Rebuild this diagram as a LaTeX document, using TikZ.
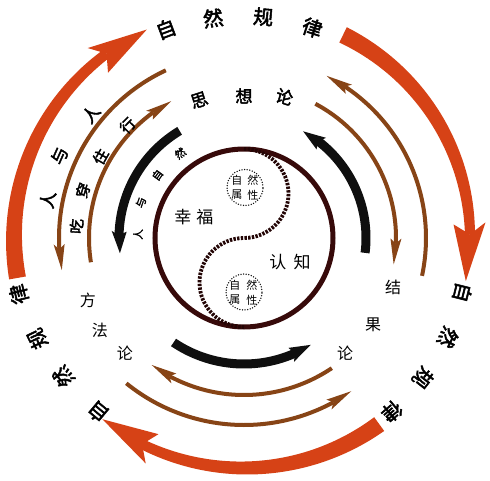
\documentclass[tikz,border=0pt]{standalone}
\usepackage{fontspec}
\newfontfamily\cjk{Noto Sans CJK SC}
\newfontfamily\cjkb[FakeBold=2.5]{Noto Sans CJK SC}
\definecolor{redA}{RGB}{214,66,22}
\definecolor{brownA}{RGB}{135,68,22}
\definecolor{maroonA}{RGB}{55,10,10}
\definecolor{darkA}{RGB}{35,5,5}
\definecolor{blackA}{RGB}{15,15,15}
% #1 colour, #2 radius, #3 start angle, #4 tip angle, #5 start width, #6 end width,
% #7 head length, #8 head width, #9 head inset
\newcommand\arrowarc[9]{%
  \pgfmathsetmacro\AAd{(#4>#3)?1:-1}%
  \pgfmathsetmacro\AAb{#4-(\AAd)*(#7)/(#2)*180/pi}%
  \pgfmathsetmacro\AAi{#4-(\AAd)*(#7-#9)/(#2)*180/pi}%
  \pgfmathsetmacro\AAo{#2+#8/2}%
  \pgfmathsetmacro\AAn{#2-#8/2}%
  \fill[#1] plot[domain=#3:\AAi,samples=60] (\x:{#2+(#5+(#6-#5)*(\x-(#3))/(\AAi-(#3)))/2})
     -- plot[domain=\AAi:#3,samples=60] (\x:{#2-(#5+(#6-#5)*(\x-(#3))/(\AAi-(#3)))/2}) -- cycle;
  \fill[#1] (#4:#2) -- (\AAb:\AAo) -- (\AAi:#2) -- (\AAb:\AAn) -- cycle;
}
% name, style, angle, radius, text
\newcommand\rtext[5]{\node[#2, rotate=#3-90] (#1) at (#3:#4) {#5};}
\begin{document}
\begin{tikzpicture}[x=1pt,y=1pt,
  lawtxt/.style={font=\cjkb\fontsize{20}{20}\selectfont, inner sep=0pt},
  ringtxt/.style={font=\cjkb\fontsize{17}{17}\selectfont, inner sep=0pt},
  lifetxt/.style={font=\cjkb\fontsize{15}{15}\selectfont, inner sep=0pt},
  smalltxt/.style={font=\cjkb\fontsize{10.5}{10.5}\selectfont, inner sep=0pt},
  plaintxt/.style={font=\cjk\fontsize{16}{16}\selectfont, inner sep=0pt},
  cenfont/.style={font=\cjk\fontsize{17}{17}\selectfont, inner sep=0pt},
  proptxt/.style={font=\cjk\fontsize{11}{11}\selectfont, inner sep=0pt},
  dotcirc/.style={draw=blackA, line width=1.5pt, line cap=round, dash pattern=on 0pt off 2.6pt}]
\useasboundingbox (-244,-242) rectangle (246,238);
\fill[white] (-244,-242) rectangle (246,238);

% red outer arrows
\arrowarc{redA}{230}{190}{115}{17}{10}{58}{32}{11}
\arrowarc{redA}{226}{64}{-11}{17}{10}{58}{32}{11}
\arrowarc{redA}{230}{-54}{-128}{17}{10}{58}{32}{11}
% brown outer arrows
\arrowarc{brownA}{185}{115}{190}{4}{4}{26}{11}{5}
\arrowarc{brownA}{182}{-12}{63}{4}{4}{26}{11}{5}
\arrowarc{brownA}{187}{-129}{-55}{4}{4}{26}{11}{5}
% brown inner arrows
\arrowarc{brownA}{155}{189}{118}{4}{4}{26}{11}{5}
\arrowarc{brownA}{152}{62}{-10}{4}{4}{26}{11}{5}
\arrowarc{brownA}{157}{-56}{-126}{4}{4}{26}{11}{5}
% black arrows
\arrowarc{blackA}{125}{121}{187}{9}{9}{22}{15}{4}
\arrowarc{blackA}{122}{-7}{61}{9}{9}{22}{15}{4}
\arrowarc{blackA}{126}{-124}{-58}{9}{9}{22}{15}{4}

% central circle and S-curve
\draw[maroonA, line width=5pt] (0,0) circle[radius=89];
\draw[darkA, line width=3.8pt, dash pattern=on 2.4pt off 1.3pt]
  (0,89) arc[start angle=90,end angle=-90,radius=44.5]
  arc[start angle=90,end angle=270,radius=44.5];
\draw[dotcirc] (1,50.5) circle[radius=18];
\draw[dotcirc] (0,-54) circle[radius=18];
\node[proptxt] (pa1) at (-7,58) {自};
\node[proptxt] (pa2) at (9,58) {然};
\node[proptxt] (pa3) at (-7,43) {属};
\node[proptxt] (pa4) at (9,43) {性};
\node[proptxt] (pb1) at (-9,-47) {自};
\node[proptxt] (pb2) at (8,-47) {然};
\node[proptxt] (pb3) at (-9,-62) {属};
\node[proptxt] (pb4) at (8,-62) {性};
\node[cenfont] (xf1) at (-61,21) {幸};
\node[cenfont] (xf2) at (-39,21) {福};
\node[cenfont] (rz1) at (34,-24) {认};
\node[cenfont] (rz2) at (58,-24) {知};

% 自然规律 (three times)
\rtext{la1}{lawtxt}{110.5}{223}{自}
\rtext{la2}{lawtxt}{98}{222}{然}
\rtext{la3}{lawtxt}{85}{222}{规}
\rtext{la4}{lawtxt}{72}{221}{律}
\rtext{lb1}{lawtxt}{-14}{225}{自}
\rtext{lb2}{lawtxt}{-26}{227}{然}
\rtext{lb3}{lawtxt}{-38}{227}{规}
\rtext{lb4}{lawtxt}{-49.6}{228}{律}
\rtext{lc1}{lawtxt}{230}{227}{自}
\rtext{lc2}{lawtxt}{217.5}{228}{然}
\rtext{lc3}{lawtxt}{206}{230}{规}
\rtext{lc4}{lawtxt}{194}{232}{律}

% 人与人
\rtext{rr1}{ringtxt}{169}{200}{人}
\rtext{rr2}{ringtxt}{156}{202}{与}
\rtext{rr3}{ringtxt}{141}{197}{人}
% 吃穿住行
\rtext{cc1}{lifetxt}{176}{168}{吃}
\rtext{cc2}{lifetxt}{163.5}{168}{穿}
\rtext{cc3}{lifetxt}{150.5}{165}{住}
\rtext{cc4}{lifetxt}{136}{162}{行}
% 思想论
\rtext{sx1}{ringtxt}{108}{145}{思}
\rtext{sx2}{ringtxt}{90}{142}{想}
\rtext{sx3}{ringtxt}{74}{147}{论}
% 人与自然
\rtext{rz3}{smalltxt}{178}{106}{人}
\rtext{rz4}{smalltxt}{161}{109}{与}
\rtext{rz5}{smalltxt}{144}{107}{自}
\rtext{rz6}{smalltxt}{127}{106}{然}
% 结果论
\node[plaintxt] (jg1) at (149,-49) {结};
\node[plaintxt] (jg2) at (129,-87) {果};
\node[plaintxt] (jg3) at (101,-115) {论};
% 方法论
\node[plaintxt] (ff1) at (-156,-62) {方};
\node[plaintxt] (ff2) at (-144,-92) {法};
\node[plaintxt] (ff3) at (-119,-115) {论};
\end{tikzpicture}
\end{document}
